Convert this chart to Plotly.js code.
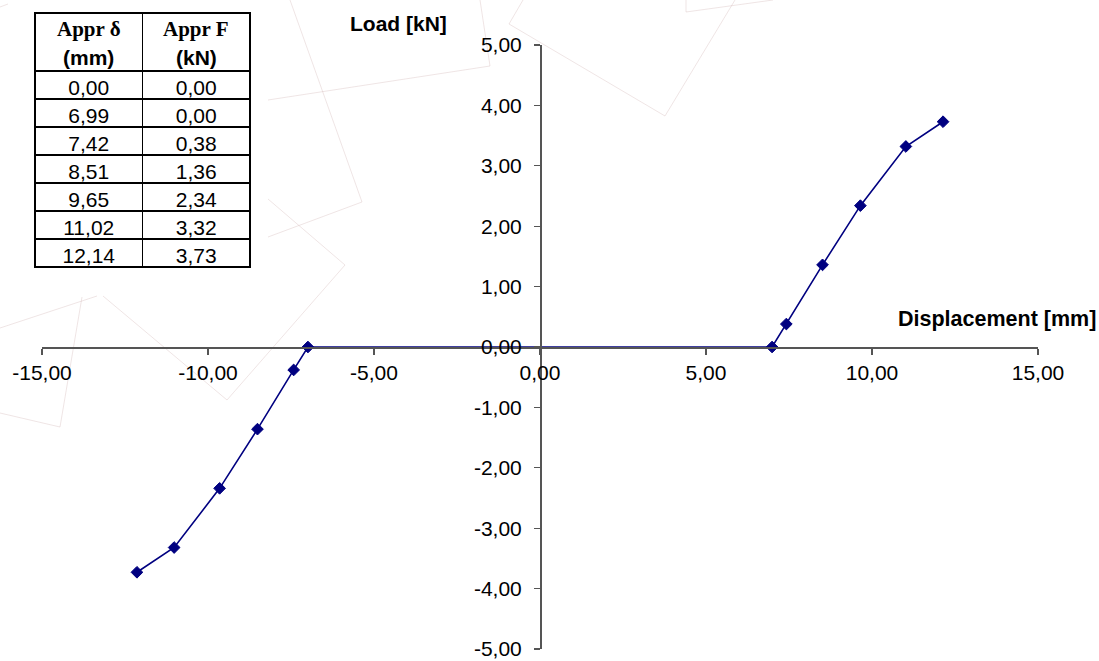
<!DOCTYPE html>
<html>
<head>
<meta charset="utf-8">
<script src="https://cdn.plot.ly/plotly-3.0.1.min.js"></script>
<style>html,body{margin:0;padding:0;background:#fff;}#chart{width:1099px;height:661px;}</style>
</head>
<body>
<div id="chart"></div>
<script>
// ---- data ----
const tableHeaderDelta = 'Appr δ';
const tableHeaderF = 'Appr F';
const unitDelta = '(mm)';
const unitF = '(kN)';
const apprDelta = [0.00, 6.99, 7.42, 8.51, 9.65, 11.02, 12.14];
const apprF = [0.00, 0.00, 0.38, 1.36, 2.34, 3.32, 3.73];
const xTicks = [-15, -10, -5, 0, 5, 10, 15];
const yTicks = [-5, -4, -3, -2, -1, 0, 1, 2, 3, 4, 5];
const xTitle = 'Displacement [mm]';
const yTitle = 'Load [kN]';

// plotted series: symmetric loading branches (the origin row is not marked)
const branchD = apprDelta.slice(1);
const branchF = apprF.slice(1);
const seriesX = branchD.map(v => -v).reverse().concat(branchD);
const seriesY = branchF.map(v => -v).reverse().concat(branchF);

const fmt = v => v.toFixed(2).replace('.', ',');

// ---- layout geometry (pixels of the 1099x661 page) ----
const W = 1099, H = 661;
const px = x => x / W;
const py = y => 1 - y / H;
const plotL = 42, plotR = 1038, plotT = 45, plotB = 649;
const xRange = [-15, 15], yRange = [-5, 5];
const xDom = [px(plotL), px(plotR)];
const yDom = [py(plotB), py(plotT)];
const xZeroPaper = xDom[0] + (0 - xRange[0]) / (xRange[1] - xRange[0]) * (xDom[1] - xDom[0]);
const yZeroPaper = yDom[0] + (0 - yRange[0]) / (yRange[1] - yRange[0]) * (yDom[1] - yDom[0]);

// table geometry
const tabL = 35, tabR = 250, tabT = 13, headH = 58, rowH = 28;
const colMid = [(tabL + (tabL + tabR) / 2) / 2, ((tabL + tabR) / 2 + tabR) / 2];

// faint decorative background outlines (page pixels)
const decoSegments = [
  [290,0,362,202],[268,100,490,66],[480,0,490,66],[268,237,362,202],
  [268,199,345,265],[345,265,227,400],[227,400,103,296],
  [509,24,523,0],[509,24,665,116],[665,116,735,0],
  [686,12,686,0],[686,12,773,0],
  [0,328,97,296],[82,297,60,427],[60,427,0,413],[0,7,8,4]
];
const shapes = decoSegments.map(s => ({
  type: 'line', xref: 'paper', yref: 'paper', layer: 'below',
  x0: px(s[0]), y0: py(s[1]), x1: px(s[2]), y1: py(s[3]),
  line: {color: 'rgba(205,175,175,0.32)', width: 1}
}));

const serif = 'Liberation Serif, Times New Roman, serif';
const sans = 'Liberation Sans, Arial, sans-serif';

const traces = [
  {
    type: 'scatter', mode: 'lines+markers',
    x: seriesX, y: seriesY,
    line: {color: '#000080', width: 1.6},
    marker: {symbol: 'diamond', size: 9, color: '#000080', line: {color: '#000080', width: 1}},
    hoverinfo: 'x+y', showlegend: false
  },
  {
    type: 'table',
    domain: {x: [px(tabL), px(tabR)], y: [py(tabT + headH + rowH * 7 + 12), py(tabT)]},
    columnwidth: [1, 1],
    header: {
      values: [[''], ['']],
      align: 'center', height: headH,
      fill: {color: 'white'},
      line: {color: '#000', width: 1.3},
      font: {family: sans, size: 21, color: '#000'}
    },
    cells: {
      values: [apprDelta.map(fmt), apprF.map(fmt)],
      align: 'center', height: rowH,
      fill: {color: 'white'},
      line: {color: '#000', width: 1.3},
      font: {family: sans, size: 21, color: '#000'}
    }
  }
];

const axisCommon = {
  showgrid: false, zeroline: false,
  showline: true, linecolor: '#555', linewidth: 1.5,
  ticks: 'outside', ticklen: 6, tickwidth: 1.2, tickcolor: '#555',
  tickfont: {family: sans, size: 21, color: '#000'},
  anchor: 'free', fixedrange: true, tickmode: 'array'
};

const headerAnnots = [];
[[tableHeaderDelta, unitDelta], [tableHeaderF, unitF]].forEach((h, i) => {
  headerAnnots.push({text: '<b>' + h[0] + '</b>', xref: 'paper', yref: 'paper',
    x: px(colMid[i]), y: py(tabT + 16), xanchor: 'center', yanchor: 'middle', showarrow: false,
    font: {family: serif, size: 21, color: '#000'}});
  headerAnnots.push({text: '<b>' + h[1] + '</b>', xref: 'paper', yref: 'paper',
    x: px(colMid[i]), y: py(tabT + 45), xanchor: 'center', yanchor: 'middle', showarrow: false,
    font: {family: sans, size: 21, color: '#000'}});
});

const layout = {
  width: W, height: H,
  margin: {l: 0, r: 0, t: 0, b: 0},
  paper_bgcolor: '#fff', plot_bgcolor: 'rgba(0,0,0,0)',
  showlegend: false,
  xaxis: Object.assign({}, axisCommon, {
    range: xRange, domain: xDom, position: yZeroPaper,
    tickvals: xTicks, ticktext: xTicks.map(fmt), ticklabelstandoff: 0
  }),
  yaxis: Object.assign({}, axisCommon, {
    range: yRange, domain: yDom, position: xZeroPaper,
    tickvals: yTicks, ticktext: yTicks.map(fmt), ticklabelstandoff: 8
  }),
  shapes: shapes,
  annotations: headerAnnots.concat([
    {text: '<b>' + yTitle + '</b>', xref: 'paper', yref: 'paper', x: px(398), y: py(23),
     xanchor: 'center', yanchor: 'middle', showarrow: false,
     font: {family: sans, size: 21, color: '#000'}},
    {text: '<b>' + xTitle + '</b>', xref: 'paper', yref: 'paper', x: px(1098), y: py(319),
     xanchor: 'right', yanchor: 'middle', showarrow: false,
     font: {family: sans, size: 21.5, color: '#000'}}
  ])
};

Plotly.newPlot('chart', traces, layout, {displayModeBar: false, staticPlot: true});
</script>
</body>
</html>
